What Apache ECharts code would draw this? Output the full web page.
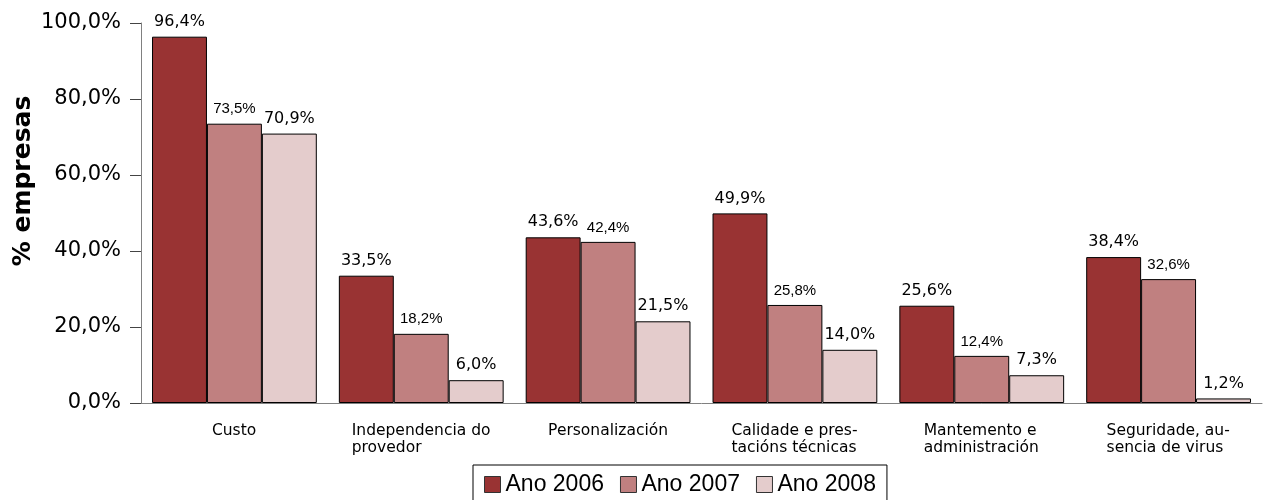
<!DOCTYPE html>
<html>
<head>
<meta charset="utf-8">
<script src="https://cdn.jsdelivr.net/npm/echarts@6/dist/echarts.min.js"></script>
<style>html,body{margin:0;padding:0;background:#fff}#c{width:1265px;height:500px}</style>
</head>
<body>
<div id="c"></div>
<script>
const categories = ["Custo", "Independencia do\nprovedor", "Personalización", "Calidade e pres-\ntacións técnicas", "Mantemento e\nadministración", "Seguridade, au-\nsencia de virus"];
const seriesNames = ["Ano 2006", "Ano 2007", "Ano 2008"];
const ano2006 = [96.4, 33.5, 43.6, 49.9, 25.6, 38.4];
const ano2007 = [73.5, 18.2, 42.4, 25.8, 12.4, 32.6];
const ano2008 = [70.9, 6.0, 21.5, 14.0, 7.3, 1.2];
const yTicks = [0, 20, 40, 60, 80, 100];

const colors = ["#993333", "#c08080", "#e4cccc"];
const fmt = v => v.toFixed(1).replace('.', ',') + '%';

// measure category labels for left-aligned block, centered
const catSize = 15.5;
const cv = document.createElement('canvas').getContext('2d');
cv.font = catSize + 'px "DejaVu Sans"';
const rich = {};
categories.forEach((c, i) => {
  const w = Math.max(...c.split('\n').map(l => cv.measureText(l).width));
  rich['c' + i] = {width: Math.ceil(w), align: 'left', fontFamily: 'DejaVu Sans', fontSize: catSize, lineHeight: 17, color: '#000'};
});

const chart = echarts.init(document.getElementById('c'), null, {renderer: 'canvas'});
const data = [ano2006, ano2007, ano2008];
chart.setOption({
  animation: false,
  grid: {left: 141, right: 3, top: 23, bottom: 97, containLabel: false},
  legend: {
    data: seriesNames,
    bottom: -8, left: 473,
    padding: [8, 11, 12, 11],
    borderColor: '#000', borderWidth: 1,
    itemWidth: 16, itemHeight: 16, itemGap: 16,
    icon: 'rect',
    textStyle: {fontFamily: 'Liberation Sans', fontSize: 23, color: '#000'},
    itemStyle: {borderColor: '#333', borderWidth: 1}
  },
  graphic: [{
    type: 'text', x: 23, y: 181, rotation: Math.PI / 2,
    style: {text: '% empresas', font: 'bold 25px "DejaVu Sans"', fill: '#000', align: 'center', verticalAlign: 'middle'}
  }],
  xAxis: {
    type: 'category', data: categories,
    axisLine: {lineStyle: {color: '#808080', width: 1}},
    axisTick: {alignWithLabel: true, length: 10, lineStyle: {color: '#444'}},
    axisLabel: {
      interval: 0, margin: 19,
      formatter: (v, i) => v.split('\n').map(l => '{c' + i + '|' + l + '}').join('\n'),
      rich: rich
    }
  },
  yAxis: {
    type: 'value', min: 0, max: 100, interval: 20,
    splitLine: {show: false},
    axisLine: {show: true, lineStyle: {color: '#808080', width: 1}},
    axisTick: {show: true, length: 11, lineStyle: {color: '#444'}},
    axisLabel: {
      formatter: v => yTicks.includes(v) ? fmt(v) : '',
      fontFamily: 'DejaVu Sans', fontSize: 21, color: '#000', margin: 20
    }
  },
  series: data.map((d, i) => ({
    name: seriesNames[i], type: 'bar', data: d,
    barGap: '0%', barCategoryGap: '11.8%',
    itemStyle: {color: colors[i], borderColor: '#000', borderWidth: 1},
    label: {
      show: true, position: 'top', distance: 7,
      formatter: p => fmt(p.value),
      fontFamily: i === 1 ? 'Liberation Sans' : 'DejaVu Sans',
      fontSize: i === 1 ? 15 : 16, color: '#000'
    }
  }))
});
</script>
</body>
</html>
